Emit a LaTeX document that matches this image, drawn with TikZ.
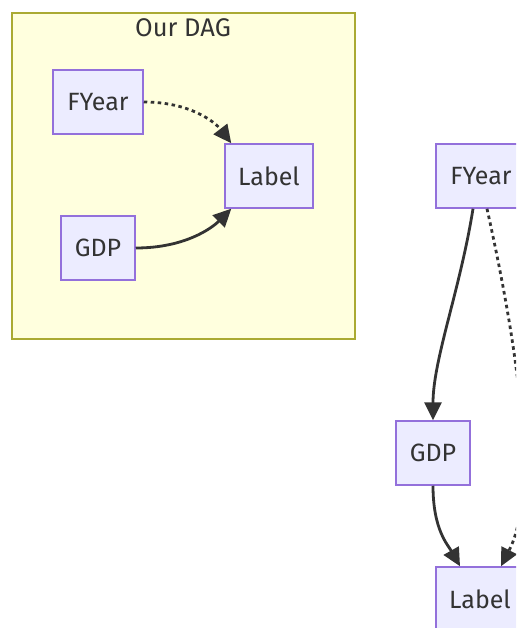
\documentclass[tikz,border=0pt]{standalone}
\usepackage{fontspec}
\setmainfont{Fira Sans}
\usetikzlibrary{arrows.meta}
\definecolor{nodefill}{HTML}{ECECFF}
\definecolor{nodeline}{HTML}{9370DB}
\definecolor{clusterfill}{HTML}{FFFFDE}
\definecolor{clusterline}{HTML}{AAAA33}
\definecolor{ink}{HTML}{333333}
\begin{document}
\begin{tikzpicture}[x=1pt,y=-1pt,
  box/.style={draw=nodeline, fill=nodefill, line width=1.5pt, minimum height=64pt, inner sep=0pt, text=ink, font=\fontsize{25}{30}\selectfont},
  link/.style={draw=ink, line width=2.8pt, -{Triangle[length=18pt,width=17pt]}},
  weak/.style={link, dash pattern=on 3.5pt off 3.5pt}]
  \useasboundingbox (0,0) rectangle (516,628);
  \clip (0,0) rectangle (516,628);
  % cluster
  \draw [clusterline, fill=clusterfill, line width=1.5pt] (12,13) rectangle (355,339);
  \node (dagtitle) [text=ink, font=\fontsize{25.5}{30}\selectfont] at (183,28) {Our DAG};
  \node (fyearA) [box, minimum width=90pt] at (98,102) {FYear};
  \node (labelA) [box, minimum width=88pt] at (269,176) {Label};
  \node (gdpA) [box, minimum width=74pt] at (98,248) {GDP};
  \draw [weak] (fyearA.east) .. controls (190,102) and (215,122) .. ([xshift=7pt]labelA.north west);
  \draw [link] (gdpA.east) .. controls (185,248) and (212,228) .. ([xshift=7pt]labelA.south west);
  % right graph
  \node (fyearB) [box, minimum width=90pt] at (481,176) {FYear};
  \node (gdpB) [box, minimum width=74pt] at (433,453) {GDP};
  \node (labelB) [box, minimum width=88pt] at (480,599) {Label};
  \draw [link] ([xshift=-8pt]fyearB.south) .. controls (460,290) and (433,360) .. (gdpB.north);
  \draw [weak] ([xshift=6pt]fyearB.south) .. controls (525,380) and (535,500) .. ([xshift=21pt]labelB.north);
  \draw [link] (gdpB.south) .. controls (433,530) and (448,545) .. ([xshift=-20pt]labelB.north);
\end{tikzpicture}
\end{document}
